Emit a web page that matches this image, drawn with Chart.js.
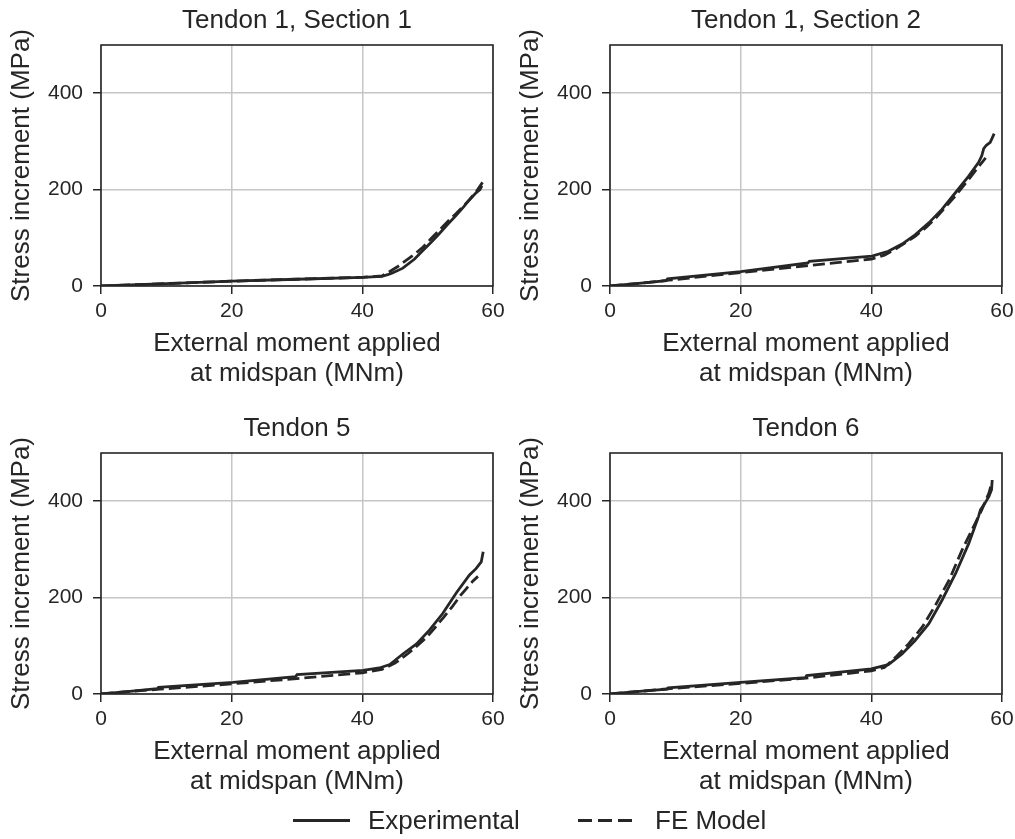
<!DOCTYPE html>
<html>
<head>
<meta charset="utf-8">
<script src="https://cdn.jsdelivr.net/npm/chart.js@4"></script>
<style>
  body { margin: 0; background: #fff; }
  #page { position: relative; width: 1015px; height: 839px; background: #fff; overflow: hidden; }
  #page canvas { position: absolute; }
  .legend { position: absolute; top: 804px; left: 0; height: 32px;
            font-family: 'Liberation Sans', Arial, sans-serif; font-size: 26px; color: #262626; }
  .legend .item { position: absolute; top: 0; white-space: nowrap; line-height: 32px; }
  .legend .solid { position: absolute; top: 15px; height: 3px; background: #262626; }
  .legend .dashed { position: absolute; top: 15px; height: 3px;
            background: repeating-linear-gradient(90deg, #262626 0 14px, transparent 14px 20px); }
</style>
</head>
<body>
<div id="page">
  <canvas id="panel-1" width="507" height="400" style="left:0px;top:0px"></canvas>
  <canvas id="panel-2" width="506" height="400" style="left:509px;top:0px"></canvas>
  <canvas id="panel-3" width="507" height="400" style="left:0px;top:408px"></canvas>
  <canvas id="panel-4" width="506" height="400" style="left:509px;top:408px"></canvas>
  <div class="legend">
    <div class="solid" style="left:293px;width:57px"></div>
    <div class="item" style="left:368px">Experimental</div>
    <div class="dashed" style="left:578px;width:56px"></div>
    <div class="item" style="left:655px">FE Model</div>
  </div>
</div>
<script>
// Panel titles and axis labels
const panelTitles = ['Tendon 1, Section 1', 'Tendon 1, Section 2', 'Tendon 5', 'Tendon 6'];
const xAxisLabel = ['External moment applied', 'at midspan (MNm)'];
const yAxisLabel = 'Stress increment (MPa)';
const xTicks = [0, 20, 40, 60];
const yTicks = [0, 200, 400];

// Tendon 1, Section 1 (moment in MNm, stress increment in MPa)
const t1s1ExpX = [0, 10, 20, 30, 40, 43, 44, 44.6, 46.2, 48, 49.3, 50.5, 51.8, 53, 54.4, 55.5, 56.4, 57.3, 58, 58.3];
const t1s1ExpY = [0, 5, 10, 14, 18, 20, 24, 27, 37, 56, 74, 90, 109, 127, 147, 164, 179, 192, 200, 208];
const t1s1FeX = [0, 10, 20, 30, 40, 43, 44.2, 45.5, 46.7, 48, 49.3, 50.5, 51.8, 53, 54.4, 55.5, 56.4, 57.5, 58.4];
const t1s1FeY = [0, 5, 10, 14, 18, 21, 30, 41, 53, 66, 81, 98, 116, 133, 151, 166, 179, 197, 215];

// Tendon 1, Section 2
const t1s2ExpX = [0, 4, 8.6, 8.8, 20, 30.3, 30.5, 40.1, 42.6, 44.7, 46.7, 48.8, 50.8, 52.9, 54.9, 56.4, 56.9, 57.2, 57.6, 58.2, 58.8];
const t1s2ExpY = [0, 5, 11, 15, 30, 48, 51, 62, 72, 87, 106, 131, 159, 194, 228, 256, 270, 285, 292, 298, 316];
const t1s2FeX = [0, 5, 9, 20, 30, 40, 42, 44, 46.7, 48.5, 50, 51.5, 53, 55, 56.5, 57.5];
const t1s2FeY = [0, 6, 12, 28, 42, 56, 64, 79, 103, 123, 143, 166, 189, 223, 249, 266];

// Tendon 5
const t5ExpX = [0, 4, 8.6, 8.8, 20.2, 29.8, 30, 40.1, 42.6, 44.2, 46.2, 48.3, 50.3, 52.3, 54.4, 56.4, 57.4, 58.2, 58.5];
const t5ExpY = [0, 5, 11, 14, 24, 36, 40, 49, 54, 61, 83, 104, 133, 167, 210, 247, 260, 274, 295];
const t5FeX = [0, 5, 9, 20, 30, 40, 43, 45, 47, 48.5, 50, 51.2, 52.5, 53.8, 55, 56.9, 57.7];
const t5FeY = [0, 6, 10, 21, 32, 44, 51, 64, 84, 101, 120, 139, 160, 182, 204, 234, 244];

// Tendon 6
const t6ExpX = [0, 4, 8.7, 8.9, 20, 29.9, 30.1, 40, 42.6, 44.7, 46.7, 48.8, 50.8, 52.9, 54.9, 56.4, 56.7, 57.4, 58, 58.4, 58.5];
const t6ExpY = [0, 5, 10, 13, 24, 34, 38, 52, 61, 83, 111, 146, 194, 250, 312, 368, 382, 396, 410, 424, 444];
const t6FeX = [0, 10, 20, 30, 40, 42, 43.7, 45.7, 47.8, 49.8, 51.9, 53.9, 55.9, 56.9, 58, 58.3];
const t6FeY = [0, 12, 22, 33, 48, 55, 76, 104, 139, 184, 236, 299, 354, 382, 417, 432];

const panels = [
    [t1s1ExpX, t1s1ExpY, t1s1FeX, t1s1FeY],
    [t1s2ExpX, t1s2ExpY, t1s2FeX, t1s2FeY],
    [t5ExpX, t5ExpY, t5FeX, t5FeY],
    [t6ExpX, t6ExpY, t6FeX, t6FeY]
];

const ink = '#262626';
const gridGrey = '#c6c6c6';

Chart.defaults.font.family = "'Liberation Sans', Arial, sans-serif";
Chart.defaults.color = ink;

// pair up x and y arrays into points
function toPoints(xs, ys) {
    return xs.map((x, i) => ({x: x, y: ys[i]}));
}

// Draws the full box round the plot area, like matplotlib spines
const frameBox = {
    id: 'frameBox',
    afterDatasetsDraw(chart) {
        const a = chart.chartArea;
        const ctx = chart.ctx;
        ctx.save();
        ctx.strokeStyle = ink;
        ctx.lineWidth = 1.6;
        ctx.strokeRect(a.left, a.top, a.right - a.left, a.bottom - a.top);
        ctx.restore();
    }
};

function drawPanel(index) {
    const [ex, ey, fx, fy] = panels[index];
    const ctx = document.getElementById('panel-' + (index + 1));
    const rightPad = ctx.width - 101 - 392;

    new Chart(ctx, {
        type: 'line',
        data: {
            datasets: [{
                label: 'Experimental',
                data: toPoints(ex, ey),
                borderColor: ink,
                borderWidth: 2.8,
                pointRadius: 0,
                tension: 0
            }, {
                label: 'FE Model',
                data: toPoints(fx, fy),
                borderColor: ink,
                borderWidth: 2.8,
                borderDash: [12, 5],
                pointRadius: 0,
                tension: 0
            }]
        },
        options: {
            responsive: false,
            devicePixelRatio: 1,
            animation: false,
            layout: { padding: { left: 0, right: rightPad, top: 0, bottom: 0 } },
            plugins: {
                legend: { display: false },
                tooltip: { enabled: false },
                title: {
                    display: true,
                    text: panelTitles[index],
                    fullSize: false,
                    color: ink,
                    font: { size: 26, weight: 'normal' },
                    padding: { top: 5, bottom: 8.8 }
                }
            },
            scales: {
                x: {
                    type: 'linear',
                    min: 0,
                    max: 60,
                    afterBuildTicks: s => { s.ticks = xTicks.map(v => ({value: v})); },
                    // fixed axis height, and no extra room for the end labels
                    afterFit: s => { s.height = 114; s.paddingLeft = 0; s.paddingRight = 0; },
                    grid: { color: gridGrey, lineWidth: 1.5, tickColor: ink, tickLength: 8, tickWidth: 1.5 },
                    border: { display: false },
                    ticks: { color: ink, font: { size: 21 }, padding: 5, maxRotation: 0 },
                    title: {
                        display: true,
                        text: xAxisLabel,
                        color: ink,
                        font: { size: 26, lineHeight: 1.15 },
                        padding: { top: 0, bottom: 11 }
                    }
                },
                y: {
                    min: 0,
                    max: 500,
                    afterBuildTicks: s => { s.ticks = yTicks.map(v => ({value: v})); },
                    afterFit: s => { s.width = 101; s.paddingTop = 0; s.paddingBottom = 0; },
                    grid: { color: gridGrey, lineWidth: 1.5, tickColor: ink, tickLength: 8, tickWidth: 1.5 },
                    border: { display: false },
                    ticks: { color: ink, font: { size: 21 }, padding: 10 },
                    title: {
                        display: true,
                        text: yAxisLabel,
                        color: ink,
                        font: { size: 26 },
                        padding: { top: 6, bottom: 0 }
                    }
                }
            }
        },
        plugins: [frameBox]
    });
}

panels.forEach((p, i) => drawPanel(i));
</script>
</body>
</html>
